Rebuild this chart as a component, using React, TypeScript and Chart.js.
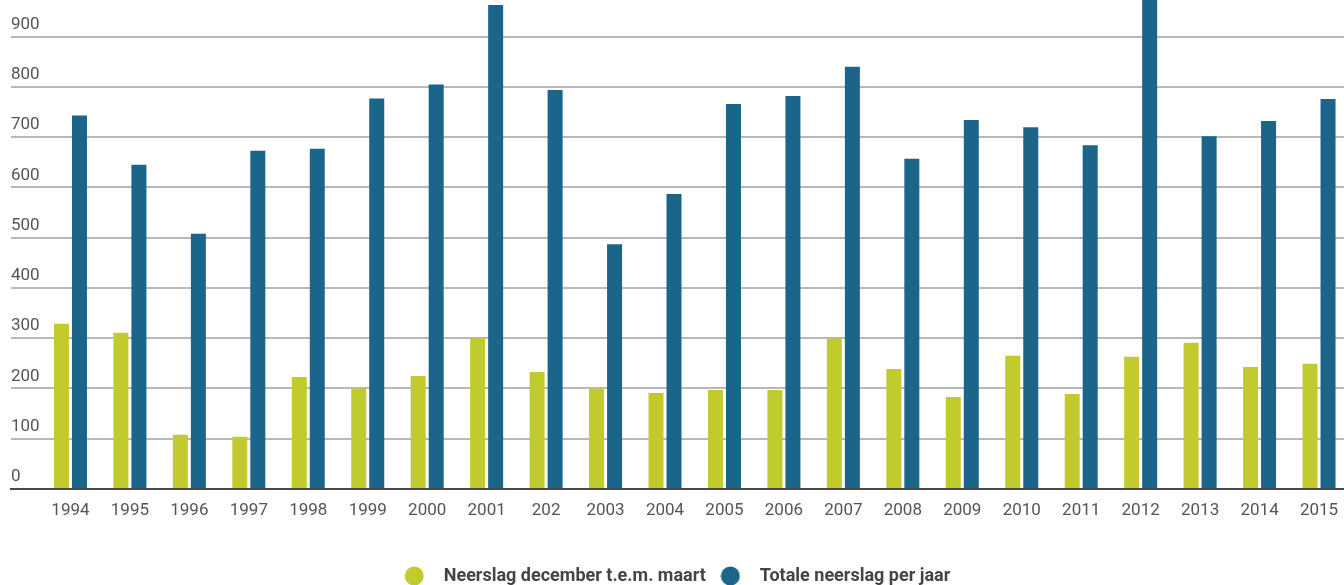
import React, { useEffect, useRef } from 'react';
import { Chart, registerables } from 'chart.js';

Chart.register(...registerables);

const years = ['1994', '1995', '1996', '1997', '1998', '1999', '2000', '2001', '202', '2003', '2004', '2005', '2006', '2007', '2008', '2009', '2010', '2011', '2012', '2013', '2014', '2015'];
const winterRain = [329, 311, 108, 104, 223, 200, 225, 300, 233, 200, 191, 197, 197, 300, 239, 183, 265, 189, 263, 291, 243, 249];
const yearRain = [743, 645, 508, 673, 677, 777, 805, 963, 794, 487, 587, 766, 782, 840, 657, 734, 720, 684, 1000, 702, 732, 776];
const yTicks = [0, 100, 200, 300, 400, 500, 600, 700, 800, 900];
const seriesNames = ['Neerslag december t.e.m. maart', 'Totale neerslag per jaar'];
const seriesValues = [winterRain, yearRain];
const colors = ['#c2cb2e', '#1a6589'];

export default function App() {
  const ref = useRef<HTMLCanvasElement>(null);

  useEffect(() => {
    const canvas = ref.current!;
    Chart.defaults.font.family = 'Roboto';

    const makeDot = (color: string) => {
      const c = document.createElement('canvas');
      c.width = 20;
      c.height = 20;
      const g = c.getContext('2d')!;
      g.fillStyle = color;
      g.beginPath();
      g.arc(10, 10, 9.5, 0, Math.PI * 2);
      g.fill();
      return c;
    };
    const dots = colors.map(makeDot);

    const chart = new Chart(canvas, {
      type: 'bar',
      data: {
        datasets: seriesNames.map((name, k) => ({
          label: name,
          data: seriesValues[k].map((v, i) => ({ x: i, y: v })),
          backgroundColor: colors[k],
          borderWidth: 0,
          categoryPercentage: 0.6055,
          barPercentage: 0.8333,
        })),
      },
      options: {
        responsive: false,
        animation: false,
        layout: { padding: 0 },
        scales: {
          x: {
            type: 'linear',
            offset: false,
            min: -1,
            max: 21.42,
            grid: { display: false, offset: false },
            border: { display: true, color: '#4a4a4a', width: 2 },
            ticks: {
              includeBounds: false,
              autoSkip: false,
              maxRotation: 0,
              padding: 4,
              color: '#555555',
              font: { size: 17 },
              callback: (value: any) => years[value as number] ?? '',
            },
            afterBuildTicks: (s: any) => {
              s.ticks = years.map((_, i) => ({ value: i }));
            },
            afterFit: (s: any) => {
              s.height = 74;
              s.paddingLeft = 0;
              s.paddingRight = 0;
            },
          },
          y: {
            min: 0,
            max: 973,
            grid: { color: '#b8b8b8', lineWidth: 2, drawTicks: false },
            border: { display: false },
            ticks: {
              mirror: true,
              padding: 0,
              labelOffset: -12,
              includeBounds: false,
              color: '#555555',
              font: { size: 17 },
            },
            afterBuildTicks: (s: any) => {
              s.ticks = yTicks.map((v) => ({ value: v }));
            },
            afterFit: (s: any) => {
              s.width = 11;
              s.paddingTop = 0;
              s.paddingBottom = 0;
            },
          },
        },
        plugins: {
          legend: {
            position: 'bottom',
            labels: {
              usePointStyle: true,
              pointStyleWidth: 41,
              boxHeight: 18,
              padding: 4,
              color: '#444444',
              font: { size: 18, weight: 'bold' },
              generateLabels: (c: any) =>
                Chart.defaults.plugins.legend.labels
                  .generateLabels(c)
                  .map((it: any, i: number) => ({ ...it, pointStyle: dots[i] })),
            },
          },
          tooltip: { enabled: false },
        },
      },
    } as any);

    return () => chart.destroy();
  }, []);

  return (
    <div style={{ position: 'fixed', left: 0, top: 0, width: 1344, height: 585, overflow: 'hidden', background: '#fff' }}>
      <canvas ref={ref} width={1344} height={595} style={{ display: 'block' }} />
    </div>
  );
}
